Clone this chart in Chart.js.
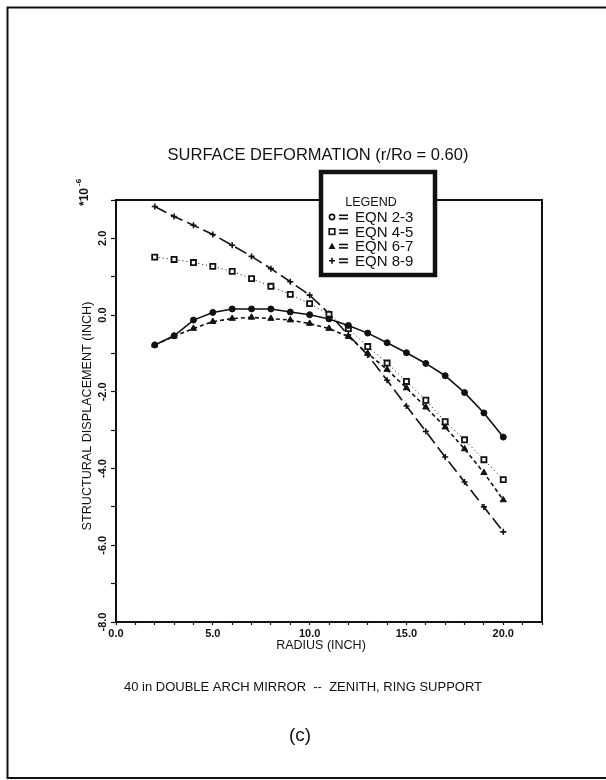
<!DOCTYPE html>
<html>
<head>
<meta charset="utf-8">
<script src="https://cdn.jsdelivr.net/npm/chart.js@4.4.1/dist/chart.umd.min.js"></script>
<style>
  html, body { margin: 0; padding: 0; background: #fff; }
  #wrap { width: 606px; height: 780px; position: relative; }
</style>
</head>
<body>
<div id="wrap"><canvas id="plot" width="606" height="780"></canvas></div>
<script>
// Data (displacement in units of 1e-6 inch)
const radius = [2, 3, 4, 5, 6, 7, 8, 9, 10, 11, 12, 13, 14, 15, 16, 17, 18, 19, 20];
const eqn23 = [-0.78, -0.54, -0.13, 0.07, 0.16, 0.16, 0.16, 0.08, 0.01, -0.10, -0.27, -0.47, -0.72, -0.98, -1.26, -1.58, -2.02, -2.55, -3.18];
const eqn45 = [1.51, 1.45, 1.37, 1.27, 1.14, 0.95, 0.75, 0.54, 0.30, 0.02, -0.35, -0.82, -1.25, -1.73, -2.22, -2.78, -3.25, -3.77, -4.29];
const eqn67 = [-0.78, -0.55, -0.35, -0.17, -0.09, -0.06, -0.09, -0.13, -0.22, -0.35, -0.56, -1.00, -1.42, -1.90, -2.40, -2.92, -3.49, -4.11, -4.82];
const eqn89 = [2.83, 2.57, 2.34, 2.10, 1.82, 1.53, 1.21, 0.87, 0.52, 0.04, -0.52, -1.04, -1.70, -2.37, -3.03, -3.70, -4.35, -5.00, -5.65];

const seriesNames = ['EQN 2-3', 'EQN 4-5', 'EQN 6-7', 'EQN 8-9'];
const xTickValues = [0, 5, 10, 15, 20];
const yTickValues = [2, 0, -2, -4, -6, -8];
const yTickLabels = ['2.0', '0.0', '-2.0', '-4.0', '-6.0', '-8.0'];

const FONT = '"Liberation Sans", Arial, sans-serif';
const INK = '#111';

function pts(ys) {
    return radius.map((r, i) => ({ x: r, y: ys[i] }));
}

// Small marker painter used for the legend box
function drawMarker(ctx, style, cx, cy) {
    ctx.save();
    ctx.strokeStyle = INK;
    ctx.fillStyle = INK;
    ctx.lineWidth = 1.6;
    ctx.setLineDash([]);
    if (style === 'circle') {
        ctx.beginPath();
        ctx.arc(cx, cy, 2.6, 0, Math.PI * 2);
        ctx.stroke();
    } else if (style === 'rect') {
        ctx.strokeRect(cx - 2.8, cy - 2.8, 5.6, 5.6);
    } else if (style === 'triangle') {
        ctx.beginPath();
        ctx.moveTo(cx, cy - 3.5);
        ctx.lineTo(cx + 3.5, cy + 2.8);
        ctx.lineTo(cx - 3.5, cy + 2.8);
        ctx.closePath();
        ctx.fill();
    } else {
        ctx.beginPath();
        ctx.moveTo(cx - 3, cy); ctx.lineTo(cx + 3, cy);
        ctx.moveTo(cx, cy - 3); ctx.lineTo(cx, cy + 3);
        ctx.stroke();
    }
    ctx.restore();
}

const decor = {
    id: 'decor',
    beforeDraw(chart) {
        const ctx = chart.ctx;
        ctx.save();
        ctx.fillStyle = '#fff';
        ctx.fillRect(0, 0, chart.width, chart.height);
        ctx.restore();
    },
    afterDraw(chart) {
        const { ctx, chartArea: a, scales: { y } } = chart;
        ctx.save();
        ctx.strokeStyle = INK;
        ctx.fillStyle = INK;

        // page frame (left, top, bottom)
        ctx.lineWidth = 2;
        ctx.beginPath();
        ctx.moveTo(620, 7.5); ctx.lineTo(7.5, 7.5); ctx.lineTo(7.5, 778); ctx.lineTo(620, 778);
        ctx.stroke();

        // top and right edges of the plot box
        ctx.lineWidth = 2;
        ctx.beginPath();
        ctx.moveTo(a.left, a.top); ctx.lineTo(a.right, a.top); ctx.lineTo(a.right, a.bottom);
        ctx.stroke();

        // rotated y tick labels
        ctx.font = 'bold 11px ' + FONT;
        ctx.textAlign = 'center';
        ctx.textBaseline = 'middle';
        yTickValues.forEach((v, i) => {
            ctx.save();
            ctx.translate(103, y.getPixelForValue(v));
            ctx.rotate(-Math.PI / 2);
            ctx.fillText(yTickLabels[i], 0, 0);
            ctx.restore();
        });

        // y axis title and exponent
        ctx.save();
        ctx.translate(88, (a.top + a.bottom) / 2 + 5);
        ctx.rotate(-Math.PI / 2);
        ctx.font = '12.6px ' + FONT;
        ctx.fillText('STRUCTURAL DISPLACEMENT (INCH)', 0, 0);
        ctx.restore();

        ctx.save();
        ctx.translate(85, 206);
        ctx.rotate(-Math.PI / 2);
        ctx.textAlign = 'left';
        ctx.font = 'bold 12px ' + FONT;
        ctx.fillText('*10', 0, 0);
        ctx.font = 'bold 8px ' + FONT;
        ctx.fillText('-6', 20, -6);
        ctx.restore();

        // titles
        ctx.font = '16.5px ' + FONT;
        ctx.fillText('SURFACE DEFORMATION (r/Ro = 0.60)', 318, 155);
        ctx.font = '12.5px ' + FONT;
        ctx.fillText('RADIUS (INCH)', 321, 646);
        ctx.font = '13px ' + FONT;
        ctx.fillText('40 in DOUBLE ARCH MIRROR  --  ZENITH, RING SUPPORT', 303, 687);
        ctx.font = '19px ' + FONT;
        ctx.fillText('(c)', 300, 736);

        // legend box
        const bx = 321, by = 172, bw = 114, bh = 103;
        ctx.fillStyle = '#fff';
        ctx.fillRect(bx, by, bw, bh);
        ctx.lineWidth = 4.5;
        ctx.strokeRect(bx, by, bw, bh);
        ctx.fillStyle = INK;
        ctx.font = '12.5px ' + FONT;
        ctx.textAlign = 'center';
        ctx.fillText('LEGEND', 371, 203);
        ctx.textAlign = 'left';
        ctx.font = '15px ' + FONT;
        chart.data.datasets.forEach((ds, i) => {
            const ly = 217 + i * 14.6;
            drawMarker(ctx, ds.pointStyle, 332, ly);
            ctx.fillRect(339, ly - 2.5, 9, 1.6);
            ctx.fillRect(339, ly + 0.9, 9, 1.6);
            ctx.fillText(ds.label, 355, ly + 1);
        });
        ctx.restore();
    }
};

new Chart(document.getElementById('plot'), {
    type: 'scatter',
    data: {
        datasets: [
            {
                label: seriesNames[0], data: pts(eqn23), showLine: true,
                borderColor: INK, borderWidth: 1.6, pointStyle: 'circle',
                pointRadius: 3, pointBackgroundColor: INK, pointBorderColor: INK, pointBorderWidth: 1
            },
            {
                label: seriesNames[1], data: pts(eqn45), showLine: true,
                borderColor: INK, borderWidth: 1, borderDash: [1, 3], pointStyle: 'rect',
                pointRadius: 3.6, pointBackgroundColor: '#fff', pointBorderColor: INK, pointBorderWidth: 1.8
            },
            {
                label: seriesNames[2], data: pts(eqn67), showLine: true,
                borderColor: INK, borderWidth: 1.6, borderDash: [4, 3], pointStyle: 'triangle',
                pointRadius: 3.6, pointBackgroundColor: INK, pointBorderColor: INK, pointBorderWidth: 1
            },
            {
                label: seriesNames[3], data: pts(eqn89), showLine: true,
                borderColor: INK, borderWidth: 1.6, borderDash: [13, 5], pointStyle: 'cross',
                pointRadius: 3, pointBorderColor: INK, pointBorderWidth: 1.6
            }
        ]
    },
    options: {
        responsive: false,
        animation: false,
        layout: { padding: { left: 76, top: 200, right: 64, bottom: 128 } },
        plugins: { legend: { display: false }, tooltip: { enabled: false } },
        scales: {
            x: {
                type: 'linear', min: 0, max: 22,
                afterFit: s => { s.height = 30; },
                border: { display: true, color: INK, width: 2 },
                grid: { drawOnChartArea: false, tickLength: 3, color: INK, tickWidth: 1.2 },
                ticks: {
                    stepSize: 1, autoSkip: false, maxRotation: 0, padding: 2,
                    color: INK, font: { family: FONT, size: 11, weight: 'bold' },
                    callback: v => xTickValues.includes(v) ? v.toFixed(1) : ''
                }
            },
            y: {
                type: 'linear', min: -8, max: 3,
                afterFit: s => { s.width = 40; },
                border: { display: true, color: INK, width: 2 },
                grid: { drawOnChartArea: false, tickLength: 5, color: INK, tickWidth: 1.2 },
                ticks: { stepSize: 1, autoSkip: false, callback: () => '' }
            }
        }
    },
    plugins: [decor]
});
</script>
</body>
</html>
